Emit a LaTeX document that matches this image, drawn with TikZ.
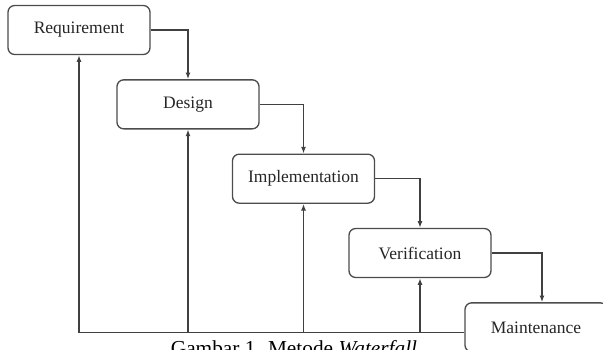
\documentclass[tikz,border=0pt]{standalone}
\usepackage{fontspec}
\setmainfont{Liberation Serif}
\usetikzlibrary{positioning,arrows.meta}

\begin{document}
\begin{tikzpicture}[node distance=14.4pt]
\tikzstyle{stage}=[draw=black!70,line width=0.8pt,rounded corners=4pt,minimum width=85.2pt,minimum height=29.4pt,inner sep=0pt,text=black!85,font=\fontsize{10.5}{12}\selectfont]
\tikzstyle{flow}=[draw=black!75,line width=0.8pt,-{Latex[length=4pt,width=3pt]}]

\useasboundingbox (-47.4pt,18pt) rectangle (314.4pt,-191.4pt);
\clip (-47.4pt,18pt) rectangle (314.4pt,-191.4pt);

\node [stage] (R) {Requirement};
\node [stage,below=of R,xshift=65.4pt] (D) {Design};
\node [stage,below=of D,xshift=69.3pt] (I) {Implementation};
\node [stage,below=of I,xshift=69.9pt] (V) {Verification};
\node [stage,below=of V,xshift=69.6pt] (M) {Maintenance};

\node [anchor=base,font=\fontsize{12.8}{14}\selectfont] (cap) at (129pt,-195pt) {Gambar 1. Metode \textit{Waterfall}};

\draw [flow] (R.east) -| (D.north);
\draw [flow] (D.east) -| (I.north);
\draw [flow] (I.east) -| (V.north);
\draw [flow] (V.east) -| ([xshift=3.6pt]M.north);

\coordinate (base) at ([yshift=-3pt]M.west);
\draw [flow] (base) -| (R.south);
\draw [flow] (D.south |- base) -- (D.south);
\draw [flow] (I.south |- base) -- (I.south);
\draw [flow] (V.south |- base) -- (V.south);
\end{tikzpicture}
\end{document}
